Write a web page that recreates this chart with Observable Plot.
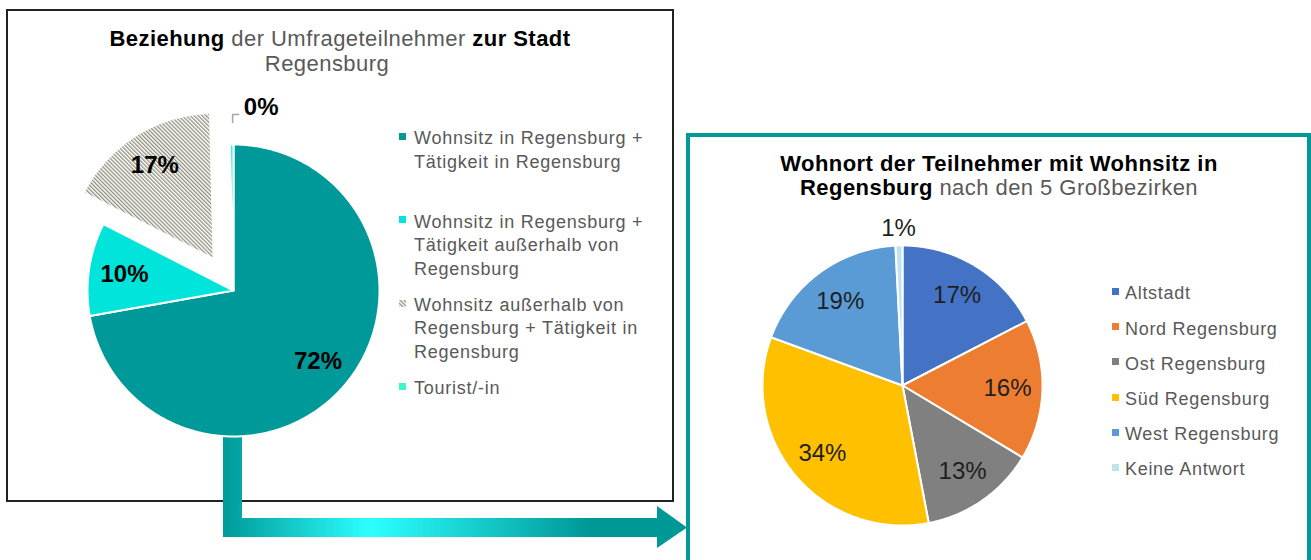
<!DOCTYPE html>
<html><head><meta charset="utf-8">
<script src="https://cdn.jsdelivr.net/npm/d3@7"></script>
<script src="https://cdn.jsdelivr.net/npm/@observablehq/plot@0.6"></script>
<style>
body{margin:0;background:#fff;}
#stage{position:relative;width:1311px;height:560px;overflow:hidden;background:#fff;font-family:"Liberation Sans",Arial,sans-serif;}
.ttl{position:absolute;white-space:nowrap;text-align:center;font-size:22px;line-height:22px;letter-spacing:0.45px;color:#595959;width:800px;}
.ttl b{color:#000;font-weight:bold;}
.leg{position:absolute;white-space:nowrap;font-size:18px;line-height:23.5px;color:#595959;}
.mk{position:absolute;width:7px;height:7px;}
</style></head>
<body><div id="stage"></div>
<script>
// ---------- data ----------
const relCategories = [
  "Wohnsitz in Regensburg + Tätigkeit in Regensburg",
  "Wohnsitz in Regensburg + Tätigkeit außerhalb von Regensburg",
  "Wohnsitz außerhalb von Regensburg + Tätigkeit in Regensburg",
  "Tourist/-in"
];
const relLegendLines = [
  ["Wohnsitz in Regensburg +", "Tätigkeit in Regensburg"],
  ["Wohnsitz in Regensburg +", "Tätigkeit außerhalb von", "Regensburg"],
  ["Wohnsitz außerhalb von", "Regensburg + Tätigkeit in", "Regensburg"],
  ["Tourist/-in"]
];
const relValues = [72.2, 10.3, 17.1, 0.4];
const relExploded = [false, false, true, false];

const distCategories = ["Altstadt", "Nord Regensburg", "Ost Regensburg", "Süd Regensburg", "West Regensburg", "Keine Antwort"];
const distValues = [17.4, 16.2, 13.4, 33.6, 18.6, 0.8];

const title1 = [["b", "Beziehung"], ["", " der Umfrageteilnehmer "], ["b", "zur Stadt"]];
const title1b = [["", "Regensburg"]];
const title2 = [["b", "Wohnort der Teilnehmer mit Wohnsitz in"]];
const title2b = [["b", "Regensburg"], ["", " nach den 5 Großbezirken"]];

// ---------- styles ----------
const relColors = ["#009999", "#00E4DB", "url(#hatch)", "#40F5CC"];
const distColors = ["#4472C4", "#ED7D31", "#808080", "#FFC000", "#5B9BD5", "#BFE3EE"];
const FONT = "Liberation Sans, Arial, sans-serif";

const stage = document.getElementById("stage");

// defs (hatch pattern) + frames + arrow
stage.insertAdjacentHTML("beforeend", `
<svg width="0" height="0" style="position:absolute"><defs>
 <pattern id="hatch" width="2.8" height="2.8" patternUnits="userSpaceOnUse" patternTransform="rotate(-45)">
  <rect width="2.8" height="2.8" fill="#ffffff"/>
  <line x1="0.7" y1="0" x2="0.7" y2="2.8" stroke="#7c7a66" stroke-width="1.1"/>
 </pattern>
 <linearGradient id="arrowGrad" gradientUnits="userSpaceOnUse" x1="223" y1="0" x2="687" y2="0">
  <stop offset="0" stop-color="#009a9a"/>
  <stop offset="0.317" stop-color="#2cffff"/>
  <stop offset="0.79" stop-color="#009797"/>
  <stop offset="1" stop-color="#009797"/>
 </linearGradient>
</defs></svg>
<div style="position:absolute;left:6px;top:9px;width:668px;height:493px;border:2px solid #222;box-sizing:border-box"></div>
<div style="position:absolute;left:686px;top:133px;width:625px;height:500px;border:4px solid #009999;box-sizing:border-box"></div>
<svg width="1311" height="560" style="position:absolute;left:0;top:0">
 <path d="M223,425 V537 H657 V548 L687,527.5 L657,506 V518 H242 V425 Z" fill="url(#arrowGrad)"/>
</svg>`);

// ---------- pie helper ----------
function pieData(categories, values, explodeFlags, explodeDist, labelR, outR) {
  const arcs = d3.pie().sort(null)(values);
  const features = [], labels = [], outside = [], leaders = [];
  arcs.forEach((a, i) => {
    const mid = (a.startAngle + a.endAngle) / 2;
    const off = explodeFlags && explodeFlags[i] ? explodeDist : 0;
    const ox = off * Math.sin(mid), oy = -off * Math.cos(mid);
    const n = Math.max(2, Math.ceil((a.endAngle - a.startAngle) / 0.01));
    const ring = [[ox, oy]];
    for (let j = 0; j <= n; j++) {
      const t = a.startAngle + (a.endAngle - a.startAngle) * j / n;
      ring.push([ox + Math.sin(t), oy - Math.cos(t)]);
    }
    ring.push([ox, oy]);
    features.push({type: "Feature", properties: {category: categories[i]}, geometry: {type: "Polygon", coordinates: [ring]}});
    const text = Math.round(values[i]) + "%";
    if (values[i] >= 2) {
      labels.push({x: ox + labelR * Math.sin(mid), y: oy - labelR * Math.cos(mid), text});
    } else {
      outside.push({x: outR * Math.sin(mid), y: -outR * Math.cos(mid), text});
      leaders.push({id: i, x: 1.13 * Math.sin(mid) + 0.008, y: -1.15});
      leaders.push({id: i, x: 1.13 * Math.sin(mid) + 0.008, y: -1.205});
      leaders.push({id: i, x: 1.13 * Math.sin(mid) + 0.05, y: -1.205});
    }
  });
  return {features, labels, outside, leaders};
}

function piePlot({categories, colors, data, size, radius, labelStyle, outDx}) {
  const k = size / 2 / radius;
  return Plot.plot({
    width: size, height: size, margin: 0,
    projection: {type: "identity", domain: {type: "MultiPoint", coordinates: [[-k, -k], [k, k]]}},
    color: {type: "ordinal", domain: categories, range: colors},
    style: {background: "none", overflow: "visible", fontFamily: FONT},
    marks: [
      Plot.geo(data.features, {fill: d => d.properties.category, stroke: "white", strokeWidth: 2}),
      Plot.line(data.leaders, {x: "x", y: "y", z: "id", stroke: "#a6a6a6", strokeWidth: 1.5, curve: "linear"}),
      Plot.text(data.labels, {x: "x", y: "y", text: "text", ...labelStyle}),
      Plot.text(data.outside, {x: "x", y: "y", text: "text", dx: outDx, ...labelStyle})
    ]
  });
}

// ---------- left pie ----------
const R1 = 146, S1 = 400, C1 = [233, 290];
const pie1 = piePlot({
  categories: relCategories, colors: relColors,
  data: pieData(relCategories, relValues, relExploded, 0.255, 0.755, 1.255),
  size: S1, radius: R1,
  labelStyle: {fontSize: 24, fontWeight: "bold", fill: "#000", fontFamily: FONT},
  outDx: 30
});
Object.assign(pie1.style, {position: "absolute", left: (C1[0] - S1 / 2) + "px", top: (C1[1] - S1 / 2) + "px"});
stage.appendChild(pie1);

// ---------- right pie ----------
const R2 = 140, S2 = 360, C2 = [902, 385];
const data2 = pieData(distCategories, distValues, null, 0, 0.75, 1.12);
data2.leaders = [];
const pie2 = piePlot({
  categories: distCategories, colors: distColors,
  data: data2,
  size: S2, radius: R2,
  labelStyle: {fontSize: 24, fill: "#1f1f1f", fontFamily: FONT},
  outDx: 0
});
Object.assign(pie2.style, {position: "absolute", left: (C2[0] - S2 / 2) + "px", top: (C2[1] - S2 / 2) + "px"});
stage.appendChild(pie2);

// ---------- titles ----------
function titleLine(parts, cx, baseline) {
  const d = document.createElement("div");
  d.className = "ttl";
  d.style.left = (cx - 400) + "px";
  d.style.top = (baseline - 18.2) + "px";
  parts.forEach(([t, s]) => {
    const e = document.createElement(t === "b" ? "b" : "span");
    e.textContent = s;
    d.appendChild(e);
  });
  stage.appendChild(d);
}
titleLine(title1, 340, 46.5);
titleLine(title1b, 327, 71);
titleLine(title2, 999, 171);
titleLine(title2b, 999, 195);

// ---------- legends ----------
function legend(linesList, colors, x, textGap, firstBaseline, pitch, letterSpacing) {
  linesList.forEach((lines, i) => {
    const base = firstBaseline + pitch * i;
    const d = document.createElement("div");
    d.className = "leg";
    d.style.left = (x + textGap) + "px";
    d.style.top = (base - 17.7) + "px";
    d.style.letterSpacing = letterSpacing + "px";
    d.innerHTML = lines.map(l => l.replace(/&/g, "&amp;").replace(/</g, "&lt;")).join("<br>");
    stage.appendChild(d);
    const mk = document.createElementNS("http://www.w3.org/2000/svg", "svg");
    mk.setAttribute("width", 7); mk.setAttribute("height", 7);
    mk.setAttribute("class", "mk");
    mk.style.left = x + "px"; mk.style.top = (base - 12) + "px";
    const r = document.createElementNS("http://www.w3.org/2000/svg", "rect");
    r.setAttribute("width", 7); r.setAttribute("height", 7); r.setAttribute("fill", colors[i]);
    mk.appendChild(r);
    stage.appendChild(mk);
  });
}
legend(relLegendLines, relColors, 399, 15, 145, 83.3, 0.75);
legend(distCategories.map(c => [c]), distColors, 1112, 13, 300, 35.2, 0.7);
</script>
</body></html>
